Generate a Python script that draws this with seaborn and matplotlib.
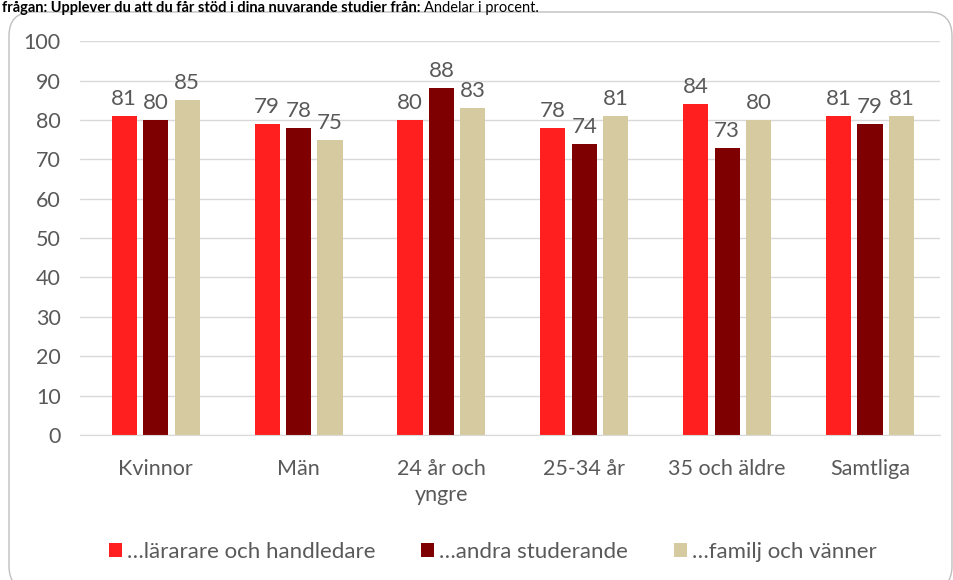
import pandas as pd
import matplotlib.pyplot as plt
import seaborn as sns
from matplotlib.patches import FancyBboxPatch

# Data
categories = ['Kvinnor', 'Män', '24 år och\nyngre', '25-34 år', '35 och äldre', 'Samtliga']
series = ['…lärarare och handledare', '…andra studerande', '…familj och vänner']
larare = [81, 79, 80, 78, 84, 81]
studerande = [80, 78, 88, 74, 73, 79]
familj = [85, 75, 83, 81, 80, 81]
colors = ['#FF1F1F', '#7F0000', '#D6CBA0']

df = pd.DataFrame({
    'Grupp': categories * 3,
    'Serie': [series[0]] * 6 + [series[1]] * 6 + [series[2]] * 6,
    'Andel': larare + studerande + familj,
})

sns.set_style('white')
plt.rcParams['font.family'] = ['Lato', 'DejaVu Sans']
text_color = '#595959'

fig = plt.figure(figsize=(9.54, 5.8), dpi=100)
ax = fig.add_axes([80 / 954, 0.25, 860 / 954, 0.679])

sns.barplot(data=df, x='Grupp', y='Andel', hue='Serie', palette=colors,
            width=0.66, gap=0.2, ax=ax, saturation=1, linewidth=0, legend=True)

for container in ax.containers:
    ax.bar_label(container, fmt='%d', padding=5, fontsize=16, color=text_color)

ax.set_ylim(0, 100)
ax.set_yticks(range(0, 101, 10))
ax.set_xlim(-0.53, 5.49)
ax.yaxis.grid(True, color='#D9D9D9', linewidth=1)
ax.set_axisbelow(True)
for s in ['left', 'right', 'top']:
    ax.spines[s].set_visible(False)
ax.spines['bottom'].set_color('#D9D9D9')
ax.tick_params(axis='both', length=0, labelsize=15.5, colors=text_color)
ax.tick_params(axis='y', pad=14)
ax.tick_params(axis='x', pad=17)
for lbl in ax.get_xticklabels():
    lbl.set_linespacing(1.4)
ax.set_xlabel('')
ax.set_ylabel('')

leg = ax.legend(loc='upper center', bbox_to_anchor=(0.48, -0.22), ncol=3,
                frameon=False, fontsize=16, handlelength=0.6, handleheight=0.6,
                handletextpad=0.22, columnspacing=2.05)
for t in leg.get_texts():
    t.set_color(text_color)

# Rounded border
border = FancyBboxPatch((9 / 954, -10 / 580), 943 / 954, 578 / 580,
                        boxstyle='round,pad=0,rounding_size=0.025',
                        transform=fig.transFigure, facecolor='none',
                        edgecolor='#BFBFBF', linewidth=1, mutation_aspect=954 / 580)
fig.patches.append(border)

# Heading
t1 = fig.text(2 / 954, 1 - 1 / 580, 'frågan: Upplever du att du får stöd i dina nuvarande studier från:',
              fontsize=10.5, fontweight='bold', color='black', va='top')
fig.canvas.draw()
x_end = t1.get_window_extent().x1 / 954
fig.text(x_end + 4 / 954, 1 - 1 / 580, 'Andelar i procent.',
         fontsize=10.5, color='black', va='top')

fig.savefig('out.png', dpi=100)
